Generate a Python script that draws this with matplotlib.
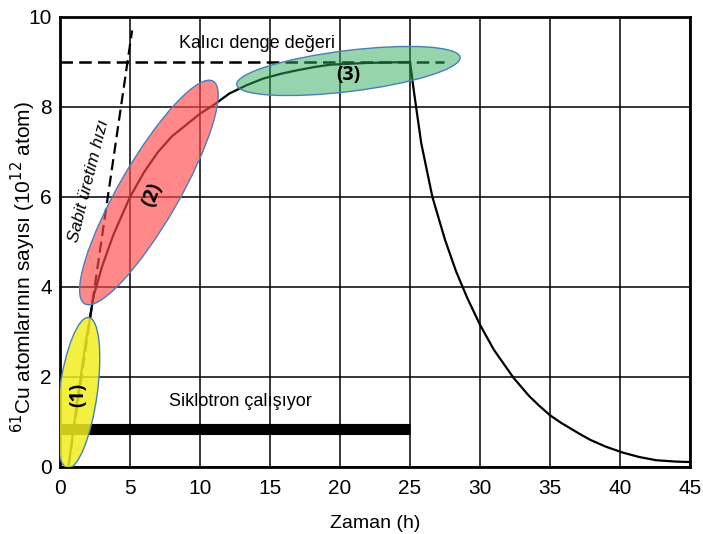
import matplotlib
matplotlib.use('Agg')
import matplotlib.pyplot as plt
from matplotlib.patches import Ellipse
from matplotlib.transforms import ScaledTranslation

plt.rcParams['font.family'] = ['Liberation Sans', 'DejaVu Sans']

# values (time in h, atoms in 1e12)
t_growth = [0.6, 1.2, 1.8, 2.4, 3.0, 3.8, 5.0, 6.0, 7.0, 8.0, 9.0, 10.0, 11.0,
            12.1, 13.3, 14.5, 15.8, 17.0, 18.2, 19.3, 20.6, 22.0, 23.5, 25.0]
n_growth = [0.0, 1.4, 2.7, 3.8, 4.45, 5.15, 6.0, 6.55, 7.0, 7.35, 7.6, 7.85, 8.05,
            8.3, 8.48, 8.63, 8.74, 8.82, 8.89, 8.94, 8.96, 8.98, 8.99, 9.0]
t_decay = [25.0, 25.3, 25.8, 26.6, 27.5, 28.3, 29.1, 30.0, 31.0, 32.4, 33.5, 34.2, 35.0,
           35.8, 36.5, 37.2, 37.9, 39.0, 40.2, 41.4, 42.6, 44.0, 45.0]
n_decay = [9.0, 8.3, 7.2, 6.0, 5.05, 4.34, 3.75, 3.16, 2.6, 1.98, 1.58, 1.37, 1.15,
           0.98, 0.85, 0.72, 0.6, 0.45, 0.32, 0.22, 0.15, 0.12, 0.11]
t_rate = [0.6, 5.15]          # constant production rate line
n_rate = [0.0, 9.7]
t_equil = [0.0, 27.4]         # saturation value
n_equil = [9.0, 9.0]
t_cyclotron = [0.0, 25.0]     # cyclotron running
n_cyclotron = [0.85, 0.85]

x_ticks = [0, 5, 10, 15, 20, 25, 30, 35, 40, 45]
y_ticks = [0, 2, 4, 6, 8, 10]

fig = plt.figure(figsize=(7.03, 5.34), dpi=100)
ax = fig.add_axes([60 / 703, 1 - 467 / 534, 630 / 703, 450 / 534])

ax.set_xlim(0, 45)
ax.set_ylim(0, 10)
ax.set_xticks(x_ticks)
ax.set_yticks(y_ticks)
ax.grid(True, color='black', lw=1.1)
ax.set_axisbelow(True)
ax.tick_params(length=0, labelsize=15)
ax.tick_params(axis='x', pad=9)
ax.tick_params(axis='y', pad=6)
for s in ax.spines.values():
    s.set_linewidth(2.0)

ax.plot(t_growth, n_growth, color='black', lw=1.6, zorder=3)
ax.plot(t_decay, n_decay, color='black', lw=1.6, zorder=3)
ax.plot(t_rate, n_rate, color='black', lw=1.6, ls=(0, (5, 2.5)), zorder=3)
ax.plot(t_equil, n_equil, color='black', lw=1.8, ls=(0, (5, 2.5)), zorder=3)
ax.plot(t_cyclotron, n_cyclotron, color='black', lw=8, solid_capstyle='butt', zorder=3)

ax.text(14.1, 9.42, 'Kalıcı denge değeri', fontsize=13, ha='center', va='center')
ax.text(12.9, 1.45, 'Siklotron çalışıyor', fontsize=13, ha='center', va='center')
ax.text(2.05, 6.35, 'Sabit üretim hızı', fontsize=12.5, style='italic',
        rotation=76, ha='center', va='center')

ax.set_xlabel('Zaman (h)', fontsize=14, labelpad=12)
ax.set_ylabel('$^{61}$Cu atomlarının sayısı (10$^{12}$ atom)', fontsize=15)
ax.yaxis.set_label_coords(-0.035, 0.444)

# highlighted regions, sizes given in pixels on screen
regions = [
    # centre x, centre y, major px, minor px, angle, colour, alpha, label, label rotation
    (1.3, 1.65, 152, 38, 82, '#f2ee20', 0.85, '(1)', 90),
    (6.35, 6.1, 257, 60, 60, '#ff4a4a', 0.65, '(2)', 68),
    (20.6, 8.8, 225, 41, 7, '#2eaa5e', 0.5, '(3)', 0),
]
label_pos = [(1.3, 1.6), (6.6, 6.05), (20.6, 8.72)]
for (cx, cy, w, h, ang, col, a, lab, rot), (lx, ly) in zip(regions, label_pos):
    tr = fig.dpi_scale_trans + ScaledTranslation(cx, cy, ax.transData)
    ax.add_patch(Ellipse((0, 0), w / 100, h / 100, angle=ang, transform=tr,
                         facecolor=col, alpha=a, edgecolor='none', zorder=4))
    ax.add_patch(Ellipse((0, 0), w / 100, h / 100, angle=ang, transform=tr,
                         facecolor='none', edgecolor='#4a7ebb', lw=1.0, zorder=5))
    ax.text(lx, ly, lab, fontsize=14, fontweight='bold', family=['Open Sans', 'DejaVu Sans'],
            rotation=rot, ha='center', va='center', zorder=6)

fig.savefig('out.png', dpi=100)
